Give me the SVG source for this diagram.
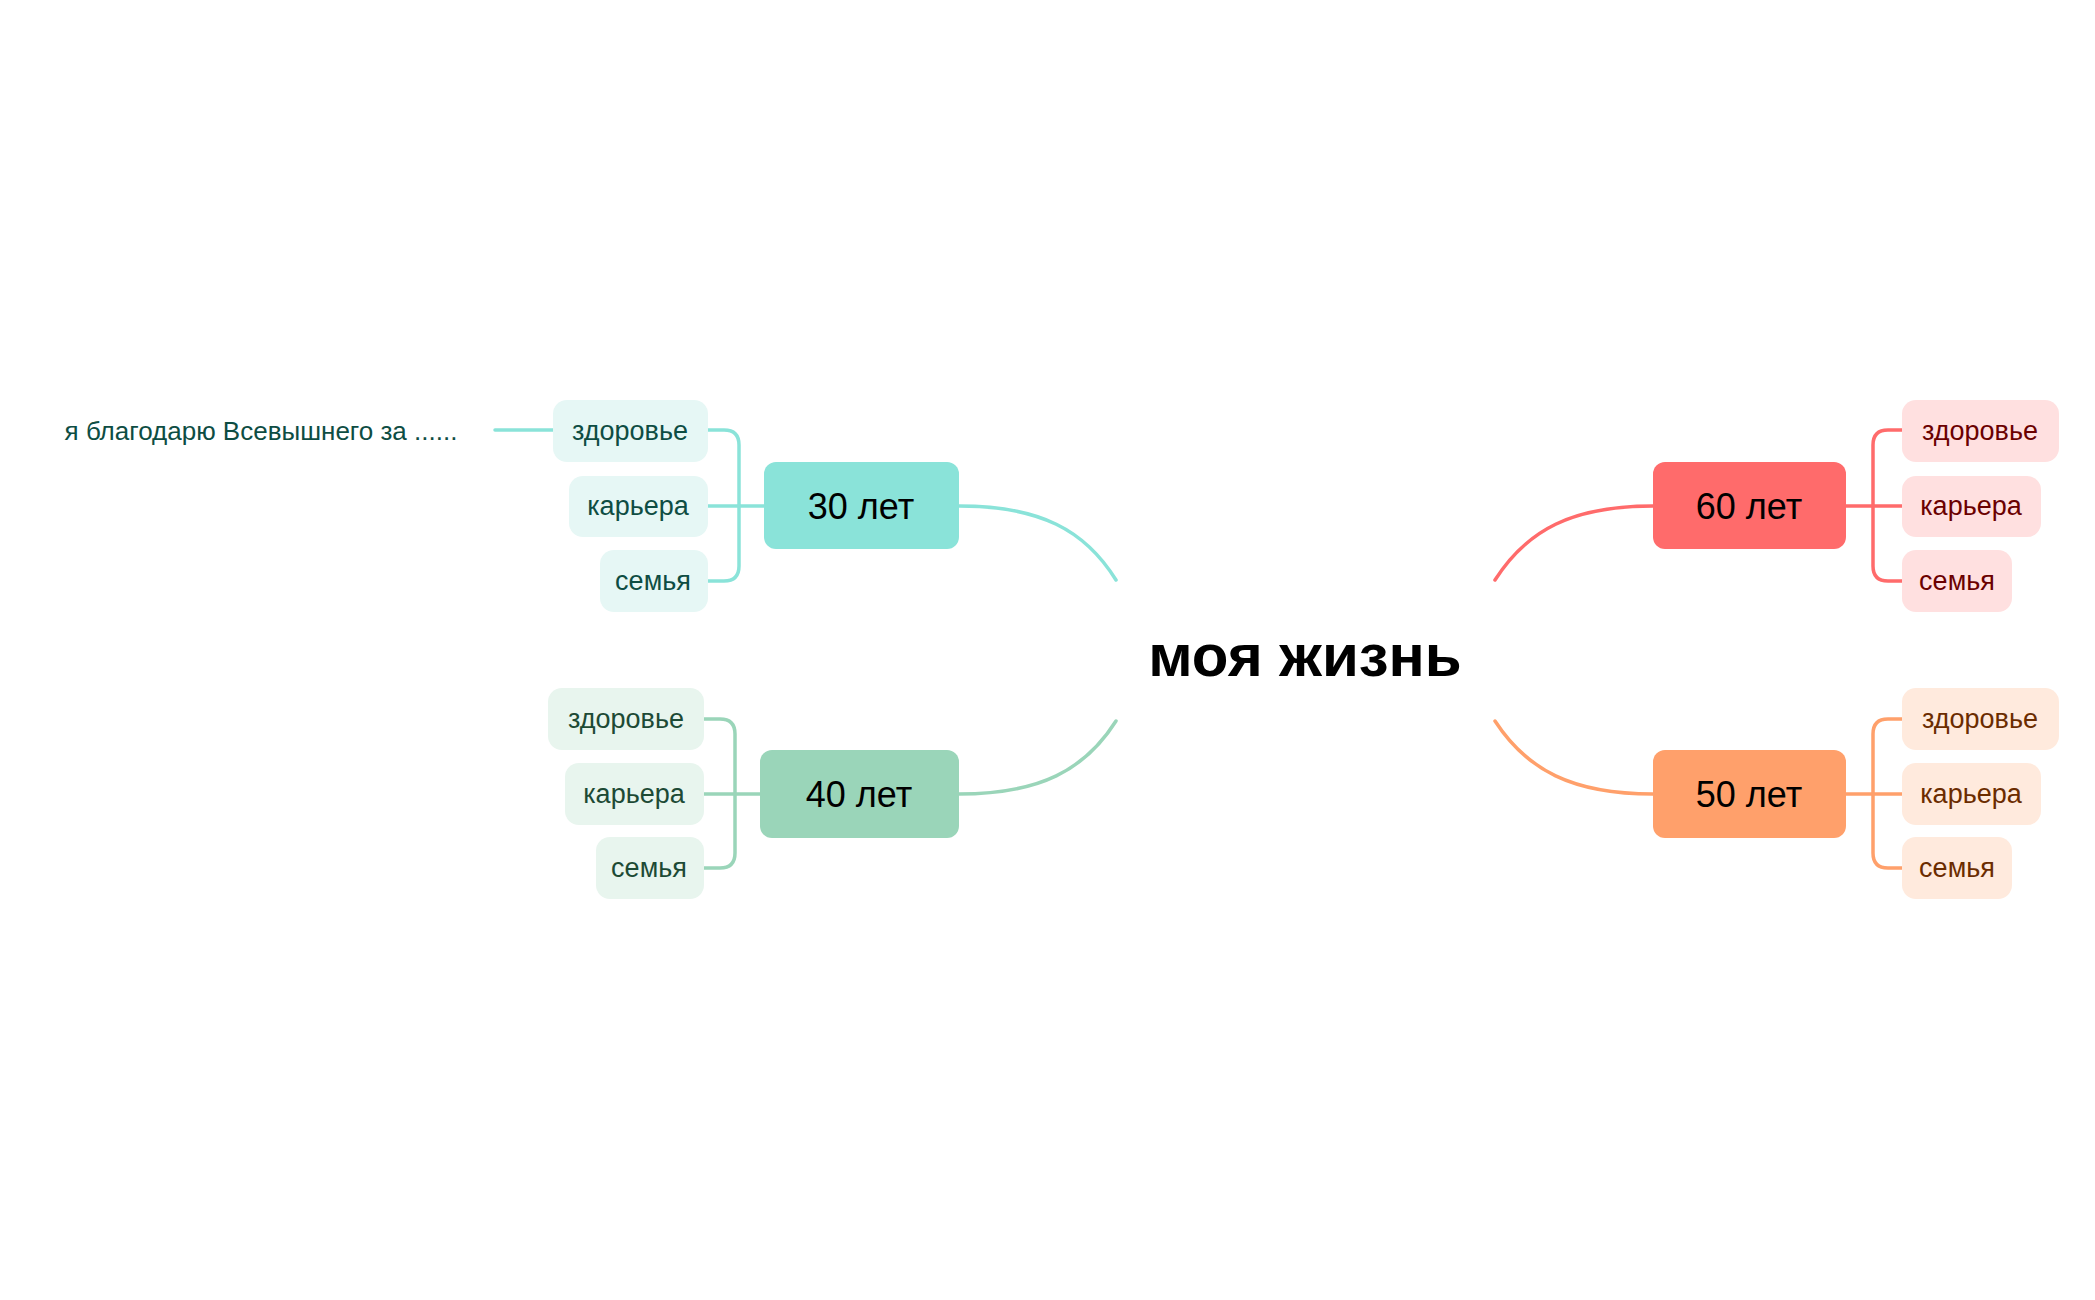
<svg xmlns="http://www.w3.org/2000/svg" width="2095" height="1300" viewBox="0 0 2095 1300">
<style>
text{font-family:"Liberation Sans",Arial,sans-serif;text-anchor:middle;dominant-baseline:central}
.m{font-size:36px;fill:#000}
.s{font-size:27px}
.c{fill:none;stroke-width:3.5;stroke-linecap:round}
.a{fill:#0e4d43}.b{fill:#1d4a35}.r{fill:#6b0000}.o{fill:#6b2c00}
</style>
<rect width="2095" height="1300" fill="#fff"/>
<g id="connectors">
<path class="c" stroke="#8ae3d9" d="M959 506 C1040 506 1085 530 1116 580"/>
<path class="c" stroke="#9ad5b9" d="M959 794 C1040 794 1085 770 1116 721"/>
<path class="c" stroke="#ff6b6b" d="M1653 506 C1572 506 1527 530 1495 580"/>
<path class="c" stroke="#ffa06b" d="M1653 794 C1572 794 1527 770 1495 721"/>
<path class="c" stroke="#8ae3d9" d="M708 430 H724 Q739 430 739 445 V566 Q739 581 724 581 H708 M708 506 H764 M553 430 H495"/>
<path class="c" stroke="#9ad5b9" d="M704 719 H720 Q735 719 735 734 V853 Q735 868 720 868 H704 M704 794 H760"/>
<path class="c" stroke="#ff6b6b" d="M1902 430 H1888 Q1873 430 1873 445 V566 Q1873 581 1888 581 H1902 M1846 506 H1902"/>
<path class="c" stroke="#ffa06b" d="M1902 719 H1888 Q1873 719 1873 734 V853 Q1873 868 1888 868 H1902 M1846 794 H1902"/>
</g>
<g id="center"><text x="1305" y="655" style="font-size:60px;font-weight:bold" fill="#000">моя жизнь</text></g>
<g id="n30"><rect x="764" y="462" width="195" height="87" rx="12" fill="#8ae3d9"/><text class="m" x="861" y="506">30 лет</text></g>
<g id="n40"><rect x="760" y="750" width="199" height="88" rx="12" fill="#9ad5b9"/><text class="m" x="859" y="794">40 лет</text></g>
<g id="n60"><rect x="1653" y="462" width="193" height="87" rx="12" fill="#ff6b6b"/><text class="m" x="1749" y="506">60 лет</text></g>
<g id="n50"><rect x="1653" y="750" width="193" height="88" rx="12" fill="#ffa06b"/><text class="m" x="1749" y="794">50 лет</text></g>
<g id="n30a"><rect x="553" y="400" width="155" height="62" rx="14" fill="#e6f7f5"/><text class="s a" x="630" y="431">здоровье</text></g>
<g id="n30b"><rect x="569" y="476" width="139" height="61" rx="14" fill="#e6f7f5"/><text class="s a" x="638" y="506">карьера</text></g>
<g id="n30c"><rect x="600" y="550" width="108" height="62" rx="14" fill="#e6f7f5"/><text class="s a" x="653" y="581">семья</text></g>
<g id="note"><text class="s a" x="261" y="431" style="font-size:26px">я благодарю Всевышнего за ......</text></g>
<g id="n40a"><rect x="548" y="688" width="156" height="62" rx="14" fill="#e8f5ee"/><text class="s b" x="626" y="719">здоровье</text></g>
<g id="n40b"><rect x="565" y="763" width="139" height="62" rx="14" fill="#e8f5ee"/><text class="s b" x="634" y="794">карьера</text></g>
<g id="n40c"><rect x="596" y="837" width="108" height="62" rx="14" fill="#e8f5ee"/><text class="s b" x="649" y="868">семья</text></g>
<g id="n60a"><rect x="1902" y="400" width="157" height="62" rx="14" fill="#ffe0e0"/><text class="s r" x="1980" y="431">здоровье</text></g>
<g id="n60b"><rect x="1902" y="476" width="139" height="61" rx="14" fill="#ffe0e0"/><text class="s r" x="1971" y="506">карьера</text></g>
<g id="n60c"><rect x="1902" y="550" width="110" height="62" rx="14" fill="#ffe0e0"/><text class="s r" x="1957" y="581">семья</text></g>
<g id="n50a"><rect x="1902" y="688" width="157" height="62" rx="14" fill="#ffeadd"/><text class="s o" x="1980" y="719">здоровье</text></g>
<g id="n50b"><rect x="1902" y="763" width="139" height="62" rx="14" fill="#ffeadd"/><text class="s o" x="1971" y="794">карьера</text></g>
<g id="n50c"><rect x="1902" y="837" width="110" height="62" rx="14" fill="#ffeadd"/><text class="s o" x="1957" y="868">семья</text></g>
</svg>
